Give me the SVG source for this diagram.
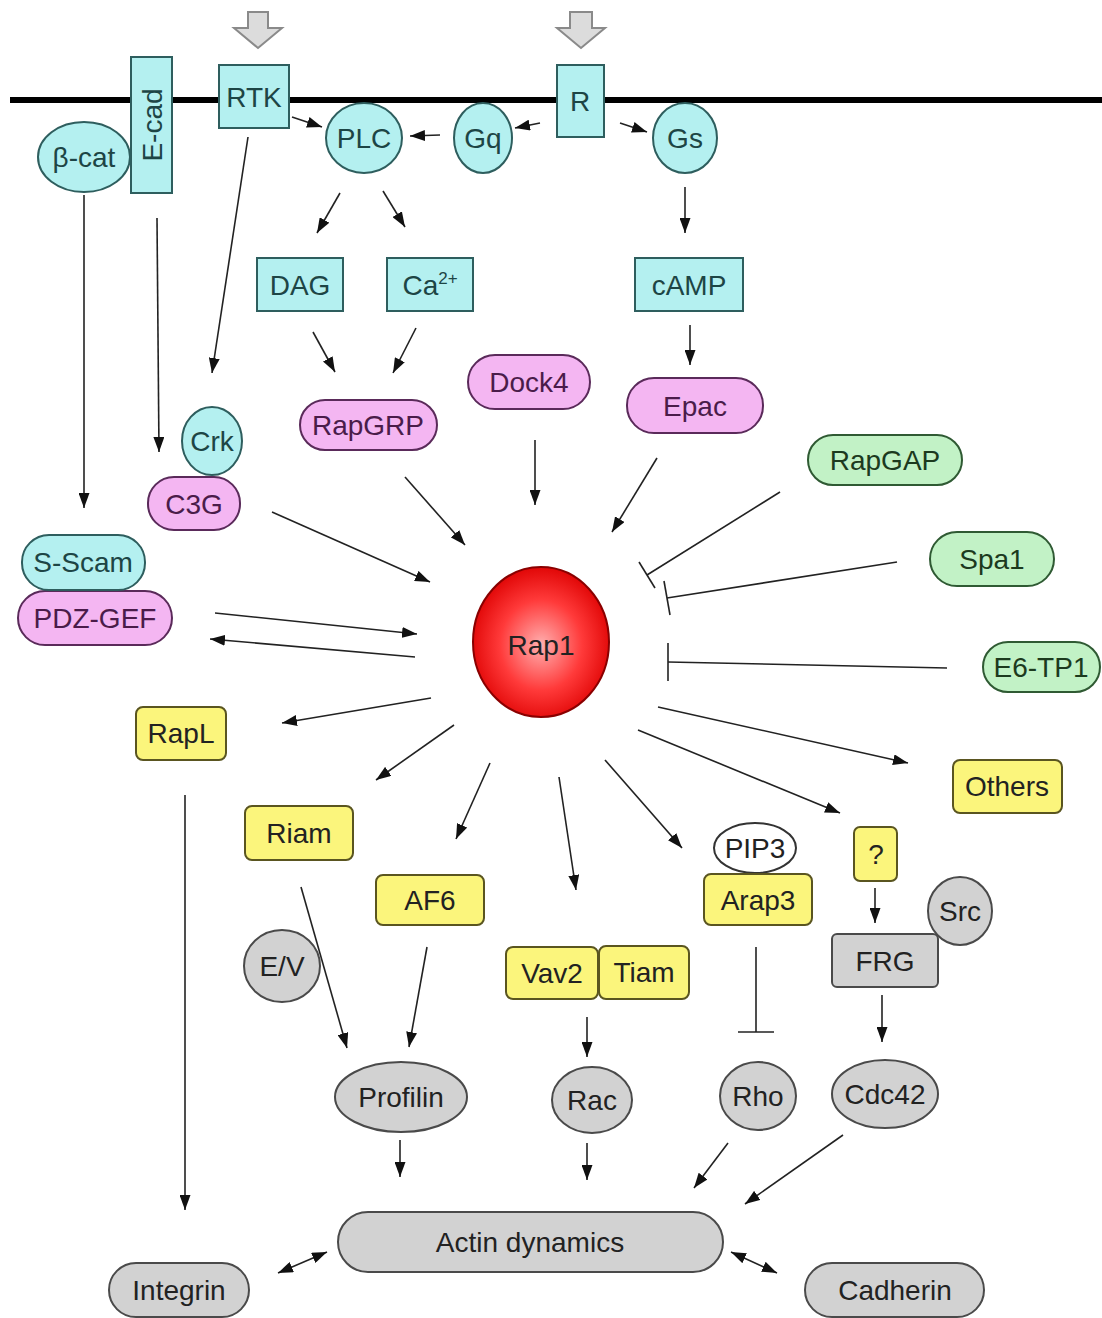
<svg xmlns="http://www.w3.org/2000/svg" width="1102" height="1318" viewBox="0 0 1102 1318">
<style>
text{font-family:"Liberation Sans",Arial,sans-serif;font-size:28px;text-anchor:middle;dominant-baseline:central;fill:#222}
.cy{fill:#b4f0f0;stroke:#2e5e5e;stroke-width:2}
.pk{fill:#f4b6f2;stroke:#5a2a5a;stroke-width:2}
.gr{fill:#c2f2c6;stroke:#2f5a33;stroke-width:2}
.ye{fill:#fbf57c;stroke:#5a5520;stroke-width:2}
.gy{fill:#d2d2d2;stroke:#4a4a4a;stroke-width:2}
.wh{fill:#fff;stroke:#333;stroke-width:2}
.tcy{fill:#1d4545}.tpk{fill:#4a1c4a}.tgr{fill:#1c3a1e}
#connectors line{stroke:#222;stroke-width:1.6;fill:none}
#connectors .a{marker-end:url(#ah)}
#connectors .d{marker-end:url(#ah);marker-start:url(#ah)}
.hollow{fill:#dcdcdc;stroke:#8a8a8a;stroke-width:2}
</style>
<defs>
<marker id="ah" markerUnits="userSpaceOnUse" markerWidth="16" markerHeight="11" refX="15" refY="5.5" orient="auto-start-reverse" viewBox="0 0 16 11">
<path d="M0,0 L15,5.5 L0,11 Z" fill="#111"/>
</marker>
<radialGradient id="rg" cx="50%" cy="52%" r="55%">
<stop offset="0" stop-color="#ffb0b0"/>
<stop offset="0.55" stop-color="#ff3a3a"/>
<stop offset="1" stop-color="#dd0000"/>
</radialGradient>
</defs>
<rect width="1102" height="1318" fill="#fff"/>

<g id="membrane"><line x1="10" y1="100" x2="1102" y2="100" stroke="#000" stroke-width="6"/></g>
<g id="signal-arrows">
<path class="hollow" d="M248,12 H268 V28 H282 L258,48 L234,28 H248 Z"/>
<path class="hollow" d="M570,12 H592 V28 H605 L581,48 L557,28 H570 Z"/>
</g>

<g id="connectors">
<line class="a" x1="292" y1="117" x2="322" y2="127"/>
<line class="a" x1="540" y1="123" x2="515" y2="128"/>
<line class="a" x1="620" y1="123" x2="647" y2="132"/>
<line class="a" x1="440" y1="135" x2="410" y2="136"/>
<line class="a" x1="340" y1="193" x2="317" y2="233"/>
<line class="a" x1="383" y1="191" x2="405" y2="227"/>
<line class="a" x1="685" y1="187" x2="685" y2="233"/>
<line class="a" x1="248" y1="137" x2="212" y2="373"/>
<line class="a" x1="157" y1="218" x2="159" y2="452"/>
<line class="a" x1="84" y1="195" x2="84" y2="508"/>
<line class="a" x1="313" y1="332" x2="335" y2="372"/>
<line class="a" x1="416" y1="328" x2="393" y2="373"/>
<line class="a" x1="690" y1="325" x2="690" y2="365"/>
<line class="a" x1="535" y1="440" x2="535" y2="505"/>
<line class="a" x1="657" y1="458" x2="612" y2="532"/>
<line class="a" x1="405" y1="477" x2="465" y2="545"/>
<line class="a" x1="272" y1="512" x2="430" y2="582"/>
<line class="a" x1="215" y1="613" x2="417" y2="634"/>
<line class="a" x1="415" y1="657" x2="210" y2="639"/>
<line class="a" x1="431" y1="698" x2="282" y2="723"/>
<line class="a" x1="454" y1="725" x2="376" y2="780"/>
<line class="a" x1="490" y1="763" x2="456" y2="839"/>
<line class="a" x1="559" y1="777" x2="576" y2="890"/>
<line class="a" x1="605" y1="760" x2="682" y2="848"/>
<line class="a" x1="638" y1="730" x2="840" y2="813"/>
<line class="a" x1="658" y1="707" x2="908" y2="763"/>
<line class="a" x1="185" y1="795" x2="185" y2="1210"/>
<line class="a" x1="301" y1="887" x2="347" y2="1048"/>
<line class="a" x1="427" y1="947" x2="409" y2="1047"/>
<line class="a" x1="587" y1="1017" x2="587" y2="1057"/>
<line class="a" x1="875" y1="888" x2="875" y2="923"/>
<line class="a" x1="882" y1="995" x2="882" y2="1042"/>
<line class="a" x1="400" y1="1140" x2="400" y2="1177"/>
<line class="a" x1="587" y1="1143" x2="587" y2="1180"/>
<line class="a" x1="728" y1="1143" x2="694" y2="1188"/>
<line class="a" x1="843" y1="1135" x2="745" y2="1204"/>
<line class="d" x1="327" y1="1252" x2="278" y2="1273"/>
<line class="d" x1="731" y1="1252" x2="777" y2="1273"/>
<line x1="780" y1="492" x2="647" y2="575"/>
<line x1="639" y1="562" x2="655" y2="588"/>
<line x1="897" y1="562" x2="667" y2="598"/>
<line x1="664" y1="581" x2="670" y2="615"/>
<line x1="947" y1="668" x2="668" y2="662"/>
<line x1="668" y1="643" x2="668" y2="681"/>
<line x1="756" y1="947" x2="756" y2="1032"/>
<line x1="738" y1="1032" x2="774" y2="1032"/>
</g>

<g id="betacat"><ellipse class="cy" cx="84" cy="157" rx="46" ry="35"/><text class="tcy" x="84" y="157">β-cat</text></g>
<g id="ecad"><rect class="cy" x="131" y="57" width="41" height="136"/><text class="tcy" transform="translate(152,125) rotate(-90)">E-cad</text></g>
<g id="rtk"><rect class="cy" x="219" y="65" width="70" height="63"/><text class="tcy" x="254" y="97">RTK</text></g>
<g id="plc"><ellipse class="cy" cx="364" cy="138" rx="38" ry="35"/><text class="tcy" x="364" y="138">PLC</text></g>
<g id="gq"><ellipse class="cy" cx="483" cy="138" rx="29" ry="35"/><text class="tcy" x="483" y="138">Gq</text></g>
<g id="r"><rect class="cy" x="557" y="65" width="47" height="72"/><text class="tcy" x="580" y="101">R</text></g>
<g id="gs"><ellipse class="cy" cx="685" cy="138" rx="32" ry="35"/><text class="tcy" x="685" y="138">Gs</text></g>
<g id="dag"><rect class="cy" x="257" y="258" width="86" height="53"/><text class="tcy" x="300" y="285">DAG</text></g>
<g id="ca"><rect class="cy" x="387" y="258" width="86" height="53"/><text class="tcy" x="430" y="285">Ca<tspan font-size="17" dy="-7">2+</tspan></text></g>
<g id="camp"><rect class="cy" x="635" y="258" width="108" height="53"/><text class="tcy" x="689" y="285">cAMP</text></g>
<g id="rapgrp"><rect class="pk" x="300" y="400" width="137" height="50" rx="25"/><text class="tpk" x="368" y="425">RapGRP</text></g>
<g id="dock4"><rect class="pk" x="468" y="355" width="122" height="54" rx="27"/><text class="tpk" x="529" y="382">Dock4</text></g>
<g id="epac"><rect class="pk" x="627" y="378" width="136" height="55" rx="27"/><text class="tpk" x="695" y="406">Epac</text></g>
<g id="c3g"><rect class="pk" x="148" y="477" width="92" height="53" rx="26"/><text class="tpk" x="194" y="504">C3G</text></g>
<g id="crk"><ellipse class="cy" cx="212" cy="441" rx="30" ry="34"/><text class="tcy" x="212" y="441">Crk</text></g>
<g id="pdzgef"><rect class="pk" x="18" y="591" width="154" height="54" rx="27"/><text class="tpk" x="95" y="618">PDZ-GEF</text></g>
<g id="sscam"><rect class="cy" x="22" y="535" width="123" height="55" rx="27"/><text class="tcy" x="83" y="562">S-Scam</text></g>
<g id="rap1"><ellipse cx="541" cy="642" rx="68" ry="75" fill="url(#rg)" stroke="#8a0000" stroke-width="2"/><text x="541" y="645" fill="#3a0a0a">Rap1</text></g>
<g id="rapgap"><rect class="gr" x="808" y="435" width="154" height="50" rx="25"/><text class="tgr" x="885" y="460">RapGAP</text></g>
<g id="spa1"><rect class="gr" x="930" y="532" width="124" height="54" rx="27"/><text class="tgr" x="992" y="559">Spa1</text></g>
<g id="e6tp1"><rect class="gr" x="983" y="642" width="117" height="50" rx="25"/><text class="tgr" x="1041" y="667">E6-TP1</text></g>
<g id="rapl"><rect class="ye" x="136" y="707" width="90" height="53" rx="7"/><text x="181" y="733">RapL</text></g>
<g id="riam"><rect class="ye" x="245" y="806" width="108" height="54" rx="7"/><text x="299" y="833">Riam</text></g>
<g id="af6"><rect class="ye" x="376" y="875" width="108" height="50" rx="7"/><text x="430" y="900">AF6</text></g>
<g id="others"><rect class="ye" x="953" y="760" width="109" height="53" rx="7"/><text x="1007" y="786">Others</text></g>
<g id="pip3"><ellipse class="wh" cx="755" cy="848" rx="41" ry="25"/><text x="755" y="848">PIP3</text></g>
<g id="arap3"><rect class="ye" x="704" y="874" width="108" height="51" rx="7"/><text x="758" y="900">Arap3</text></g>
<g id="q"><rect class="ye" x="854" y="827" width="43" height="54" rx="6"/><text x="876" y="854">?</text></g>
<g id="vav2"><rect class="ye" x="506" y="947" width="92" height="52" rx="7"/><text x="552" y="973">Vav2</text></g>
<g id="tiam"><rect class="ye" x="599" y="946" width="90" height="53" rx="7"/><text x="644" y="972">Tiam</text></g>
<g id="ev"><ellipse class="gy" cx="282" cy="966" rx="38" ry="36"/><text x="282" y="966">E/V</text></g>
<g id="frg"><rect class="gy" x="832" y="934" width="106" height="53" rx="5"/><text x="885" y="961">FRG</text></g>
<g id="src"><ellipse class="gy" cx="960" cy="911" rx="32" ry="34"/><text x="960" y="911">Src</text></g>
<g id="profilin"><ellipse class="gy" cx="401" cy="1097" rx="66" ry="35"/><text x="401" y="1097">Profilin</text></g>
<g id="rac"><ellipse class="gy" cx="592" cy="1100" rx="40" ry="33"/><text x="592" y="1100">Rac</text></g>
<g id="rho"><ellipse class="gy" cx="758" cy="1096" rx="38" ry="34"/><text x="758" y="1096">Rho</text></g>
<g id="cdc42"><ellipse class="gy" cx="885" cy="1094" rx="53" ry="34"/><text x="885" y="1094">Cdc42</text></g>
<g id="actin"><rect class="gy" x="338" y="1212" width="385" height="60" rx="30"/><text x="530" y="1242">Actin dynamics</text></g>
<g id="integrin"><rect class="gy" x="109" y="1263" width="140" height="54" rx="27"/><text x="179" y="1290">Integrin</text></g>
<g id="cadherin"><rect class="gy" x="805" y="1263" width="179" height="54" rx="27"/><text x="895" y="1290">Cadherin</text></g>
</svg>
